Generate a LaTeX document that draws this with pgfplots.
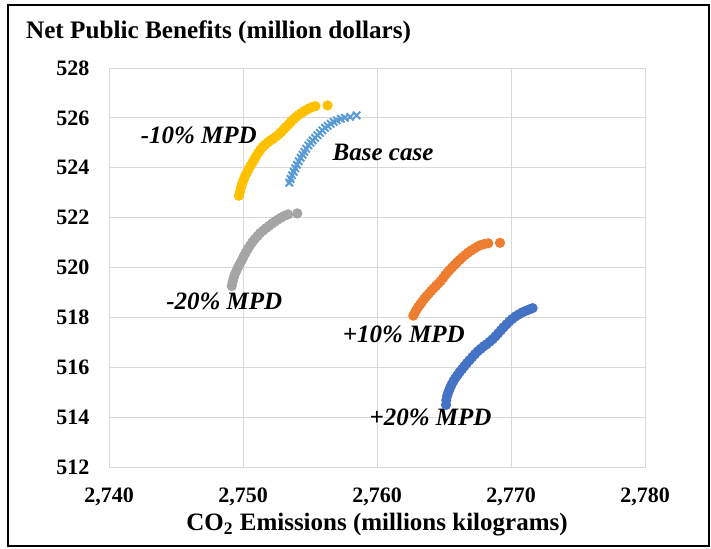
\documentclass[border=0pt]{standalone}
\usepackage{fontspec}
\setmainfont{Liberation Serif}
\usepackage{pgfplots}
\pgfplotsset{compat=1.18}
\definecolor{cyel}{RGB}{255,192,0}
\definecolor{cblu}{RGB}{91,155,213}
\definecolor{cgry}{RGB}{165,165,165}
\definecolor{corg}{RGB}{237,125,49}
\definecolor{cdbl}{RGB}{68,114,196}
\definecolor{gridc}{RGB}{217,217,217}
\begin{document}
\begin{tikzpicture}
\path[use as bounding box] (-54.5pt,-40.5pt) rectangle (301pt,233.5pt);
\draw[line width=1pt] (-50.5pt,-39.5pt) rectangle (300pt,231pt);
\node[anchor=west,font=\fontsize{12.6}{15}\selectfont\bfseries] at (-45pt,217.5pt) {Net Public Benefits (million dollars)};
\begin{axis}[
  at={(0,0)}, anchor=south west,
  scale only axis, width=268pt, height=199.5pt,
  xmin=2740, xmax=2780, ymin=512, ymax=528,
  xtick={2740,2750,2760,2770,2780},
  ytick={512,514,...,528},
  grid=major, major grid style={gridc, line width=0.5pt},
  axis line style={gridc, line width=0.5pt},
  major tick length=0pt,
  /pgf/number format/.cd, 1000 sep={,}, assume math mode=true,
  /pgfplots/.cd,
  tick label style={font=\fontsize{11}{13}\selectfont\bfseries},
  xticklabel style={anchor=north, yshift=-7pt},
  yticklabel style={anchor=east, xshift=-6.3pt},
  xlabel={CO\textsubscript{2} Emissions (millions kilograms)},
  xlabel style={font=\fontsize{12.5}{15}\selectfont\bfseries, at={(axis description cs:0.5,0)}, anchor=center, yshift=-29pt},
  clip=false,
]
% -10% MPD
\addplot[only marks, mark=*, mark size=2.35pt, cyel, mark options={draw=cyel, fill=cyel}] table {
2749.70 522.88
2749.78 523.05
2749.86 523.22
2749.95 523.38
2750.05 523.52
2750.15 523.66
2750.28 523.80
2750.42 523.94
2750.56 524.08
2750.70 524.20
2750.84 524.33
2750.98 524.46
2751.14 524.60
2751.30 524.72
2751.48 524.84
2751.66 524.93
2751.86 525.02
2752.06 525.10
2752.26 525.17
2752.46 525.25
2752.66 525.34
2752.86 525.44
2753.04 525.54
2753.22 525.64
2753.40 525.74
2753.58 525.84
2753.76 525.94
2753.94 526.03
2754.14 526.11
2754.34 526.19
2754.54 526.26
2754.74 526.32
2754.94 526.38
2755.14 526.43
2755.40 526.47
2756.31 526.50
};
% Base case
\addplot[only marks, mark=x, mark size=2.6pt, cblu, mark options={line width=1pt}] table {
2753.46 523.40
2753.55 523.55
2753.66 523.70
2753.78 523.84
2753.90 523.98
2754.02 524.12
2754.16 524.26
2754.30 524.40
2754.44 524.52
2754.58 524.64
2754.72 524.76
2754.88 524.90
2755.04 525.00
2755.20 525.10
2755.38 525.20
2755.56 525.30
2755.74 525.40
2755.92 525.50
2756.12 525.60
2756.32 525.68
2756.54 525.76
2756.76 525.84
2757.00 525.90
2757.30 525.96
2757.60 526.00
2758.00 526.04
2758.48 526.10
};
% -20% MPD
\addplot[only marks, mark=*, mark size=2.35pt, cgry, mark options={draw=cgry, fill=cgry}] table {
2749.16 519.26
2749.22 519.42
2749.30 519.58
2749.40 519.74
2749.52 519.88
2749.64 520.02
2749.78 520.16
2749.92 520.30
2750.06 520.46
2750.20 520.60
2750.36 520.74
2750.52 520.88
2750.70 521.02
2750.88 521.14
2751.08 521.26
2751.28 521.38
2751.50 521.48
2751.72 521.58
2751.94 521.67
2752.16 521.76
2752.38 521.84
2752.60 521.92
2752.84 522.00
2753.08 522.07
2753.36 522.13
2754.05 522.17
};
% +10% MPD
\addplot[only marks, mark=*, mark size=2.35pt, corg, mark options={draw=corg, fill=corg}] table {
2762.71 518.07
2762.82 518.18
2762.94 518.30
2763.08 518.42
2763.22 518.52
2763.36 518.62
2763.52 518.74
2763.68 518.84
2763.86 518.95
2764.04 519.06
2764.22 519.16
2764.40 519.26
2764.58 519.36
2764.76 519.46
2764.94 519.58
2765.10 519.70
2765.26 519.80
2765.42 519.90
2765.60 520.00
2765.78 520.10
2765.96 520.20
2766.16 520.30
2766.36 520.40
2766.58 520.50
2766.80 520.60
2767.02 520.68
2767.26 520.76
2767.50 520.84
2767.74 520.90
2768.00 520.94
2768.30 520.97
2769.18 520.99
};
% +20% MPD
\addplot[only marks, mark=*, mark size=2.35pt, cdbl, mark options={draw=cdbl, fill=cdbl}] table {
2765.15 514.49
2765.17 514.68
2765.24 514.86
2765.34 515.02
2765.44 515.16
2765.56 515.30
2765.70 515.44
2765.84 515.56
2766.00 515.68
2766.16 515.80
2766.34 515.92
2766.52 516.04
2766.70 516.16
2766.90 516.28
2767.10 516.40
2767.30 516.52
2767.52 516.64
2767.74 516.74
2767.96 516.84
2768.18 516.92
2768.40 517.02
2768.62 517.12
2768.84 517.24
2769.04 517.36
2769.24 517.48
2769.44 517.60
2769.66 517.72
2769.88 517.84
2770.10 517.94
2770.34 518.04
2770.58 518.12
2770.84 518.20
2771.10 518.26
2771.36 518.32
2771.61 518.37
};
\begin{scope}[every node/.style={font=\fontsize{12.5}{15}\selectfont\bfseries\itshape}]
\node at (axis cs:2746.7,525.31) {-10\% MPD};
\node at (axis cs:2760.45,524.63) {Base case};
\node at (axis cs:2748.6,518.66) {-20\% MPD};
\node at (axis cs:2762.0,517.33) {+10\% MPD};
\node at (axis cs:2764.0,514.0) {+20\% MPD};
\end{scope}
\end{axis}
\end{tikzpicture}
\end{document}
